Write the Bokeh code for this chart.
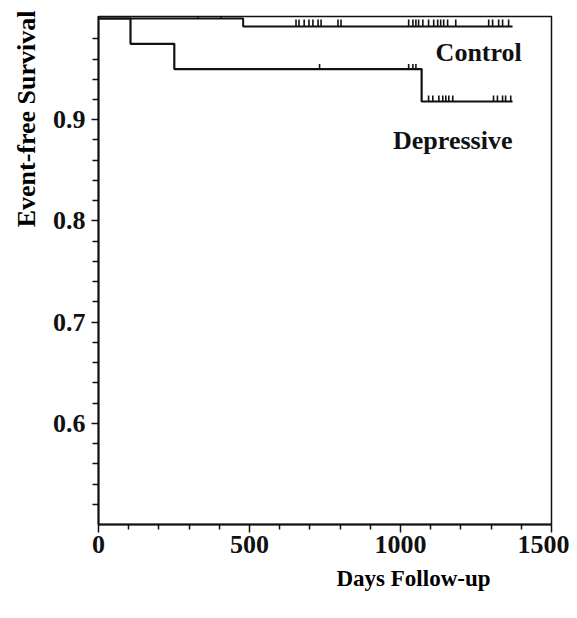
from bokeh.plotting import figure
from bokeh.models import FixedTicker, Label, Range1d, Title
from bokeh.embed import file_html
from bokeh.resources import INLINE

# Kaplan-Meier step data (days, survival)
control_days = [0, 479, 1371]
control_surv = [1.0, 0.992, 0.992]
depressive_days = [0, 106, 251, 1070, 1371]
depressive_surv = [1.0, 0.975, 0.95, 0.918, 0.918]

# censoring times
control_censor_hi = [330, 406]
control_censor_lo = [654, 664, 681, 697, 710, 727, 737, 793, 803,
                     1027, 1041, 1051, 1060, 1074, 1093, 1110, 1123, 1133,
                     1143, 1156, 1183, 1292, 1305, 1325, 1338, 1358]
depressive_censor_a = [732, 1027, 1041, 1051]
depressive_censor_b = [1093, 1107, 1127, 1140, 1150, 1160, 1173,
                       1308, 1321, 1338, 1348, 1365]

x_major = [0, 500, 1000, 1500]
x_minor = [100, 200, 300, 400, 600, 700, 800, 900, 1100, 1200, 1300, 1400]
y_major = [0.6, 0.7, 0.8, 0.9]
y_minor = [0.52, 0.54, 0.56, 0.58, 0.62, 0.64, 0.66, 0.68, 0.72, 0.74, 0.76,
           0.78, 0.82, 0.84, 0.86, 0.88, 0.92, 0.94, 0.96, 0.98]

FONT = "Liberation Serif"
INK = "#111111"

p = figure(width=569, height=610, output_backend="svg", toolbar_location=None,
           x_range=Range1d(0, 1500), y_range=Range1d(0.5, 1.002),
           min_border_left=97, min_border_right=18, min_border_top=16,
           min_border_bottom=86)
p.grid.visible = False
p.outline_line_color = INK
p.outline_line_width = 1.5
p.background_fill_color = "white"
p.border_fill_color = "white"

for ax in (p.xaxis[0], p.yaxis[0]):
    ax.axis_line_color = INK
    ax.axis_line_width = 2
    ax.major_tick_line_color = INK
    ax.minor_tick_line_color = INK
    ax.major_tick_line_width = 1.5
    ax.minor_tick_line_width = 1.5
    ax.major_label_text_font = FONT
    ax.major_label_text_font_style = "bold"
    ax.major_label_text_font_size = "26px"
    ax.major_label_text_color = INK
    ax.major_tick_in = 0
    ax.minor_tick_in = 0

p.xaxis[0].ticker = FixedTicker(ticks=x_major, minor_ticks=x_minor)
p.yaxis[0].ticker = FixedTicker(ticks=y_major, minor_ticks=y_minor)
p.xaxis[0].major_tick_out = 8
p.xaxis[0].minor_tick_out = 5
p.yaxis[0].major_tick_out = 7
p.yaxis[0].minor_tick_out = 6
p.xaxis[0].major_label_standoff = 3
p.yaxis[0].major_label_standoff = 6

# curves
p.step(control_days, control_surv, mode="after", line_color=INK, line_width=2)
p.step(depressive_days, depressive_surv, mode="after", line_color=INK, line_width=2.2)

# censor marks
def ticks(xs, level, h):
    p.segment(x0=xs, x1=xs, y0=[level] * len(xs), y1=[level + h] * len(xs),
              line_color=INK, line_width=1.6)

ticks(control_censor_hi, control_surv[0], 0.009)
ticks(control_censor_lo, control_surv[1], 0.007)
ticks(depressive_censor_a, depressive_surv[2], 0.005)
ticks(depressive_censor_b, depressive_surv[3], 0.006)

# curve labels
common = dict(text_font=FONT, text_font_style="bold", text_color=INK,
              text_align="center", text_baseline="middle")
p.add_layout(Label(x=1259, y=0.966, text="Control", text_font_size="26px", **common))
p.add_layout(Label(x=1173, y=0.879, text="Depressive", text_font_size="26px", **common))

# axis titles
ytitle = Title(text="Event-free Survival", align="right", offset=-6, text_font=FONT,
               text_font_style="bold", text_font_size="26px", text_color="black",
               standoff=18)
p.add_layout(ytitle, "left")
xtitle = Title(text="Days Follow-up", align="right", offset=61, text_font=FONT,
               text_font_style="bold", text_font_size="23px", text_color="black",
               standoff=17)
p.add_layout(xtitle, "below")

open("out.html", "w").write(file_html(p, INLINE))
